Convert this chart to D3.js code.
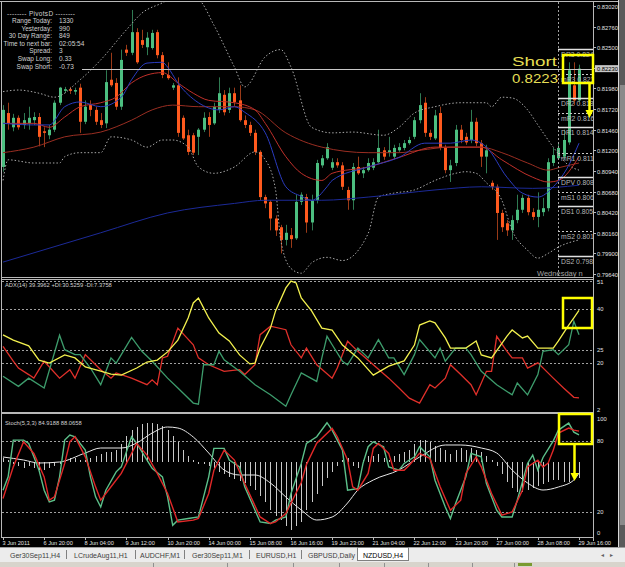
<!DOCTYPE html>
<html>
<head>
<meta charset="utf-8">
<script src="https://cdn.jsdelivr.net/npm/d3@7"></script>
<style>
html, body { margin: 0; padding: 0; background: #000; overflow: hidden; }
svg { display: block; }
text { font-family: "Liberation Sans", Arial, sans-serif; }
</style>
</head>
<body>
<div id="chart"></div>
<script>
// ---- NZDUSD H4 candles (bar 0 = 3 Jun 2011, bar 112 = 29 Jun 16:00) ----
var opens = [.8099,.8167,.8149,.8161,.8152,.8154,.8158,.8162,.8144,.8139,
  .8146,.8180,.8195,.8197,.8194,.8199,.8156,.8177,.8171,.8158,
  .8154,.8209,.8205,.8175,.8247,.8243,.8269,.8259,.8250,.8249,
  .8269,.8240,.8215,.8199,.8202,.8161,.8139,.8139,.8137,.8146,
  .8162,.8154,.8171,.8190,.8171,.8192,.8183,.8158,.8152,.8142,
  .8118,.8061,.8055,.8034,.8023,.8007,.8013,.8009,.8055,.8061,
  .8029,.8057,.8101,.8110,.8098,.8105,.8101,.8070,.8057,.8099,
  .8091,.8095,.8098,.8105,.8120,.8117,.8112,.8120,.8123,.8129,
  .8137,.8158,.8180,.8142,.8135,.8167,.8123,.8095,.8104,.8146,
  .8137,.8133,.8156,.8129,.8112,.8079,.8074,.8041,.8028,.8019,
  .8032,.8045,.8060,.8042,.8036,.8042,.8047,.8104,.8110,.8112,
  .8130,.8202,.8183];
var highs = [.8177,.8180,.8166,.8164,.8167,.8175,.8168,.8167,.8149,.8152,
  .8183,.8200,.8200,.8200,.8199,.8204,.8183,.8183,.8175,.8167,
  .8221,.8243,.8211,.8247,.8253,.8297,.8274,.8272,.8269,.8272,
  .8272,.8244,.8231,.8205,.8212,.8164,.8146,.8142,.8148,.8168,
  .8168,.8180,.8212,.8196,.8199,.8199,.8202,.8164,.8156,.8146,
  .8120,.8064,.8057,.8038,.8026,.8026,.8022,.8064,.8067,.8065,
  .8064,.8108,.8114,.8129,.8110,.8110,.8105,.8074,.8104,.8112,
  .8099,.8110,.8110,.8146,.8124,.8137,.8127,.8129,.8133,.8137,
  .8162,.8192,.8187,.8146,.8171,.8175,.8127,.8108,.8152,.8152,
  .8142,.8171,.8161,.8133,.8127,.8082,.8077,.8045,.8032,.8038,
  .8064,.8064,.8064,.8047,.8067,.8060,.8110,.8123,.8129,.8146,
  .8231,.8231,.8228];
var lows = [.8093,.8146,.8144,.8146,.8147,.8146,.8152,.8125,.8124,.8134,
  .8143,.8177,.8192,.8191,.8190,.8142,.8153,.8163,.8152,.8148,
  .8148,.8200,.8171,.8171,.8239,.8240,.8229,.8249,.8240,.8247,
  .8236,.8211,.8209,.8196,.8137,.8133,.8114,.8114,.8114,.8143,
  .8137,.8152,.8167,.8164,.8167,.8176,.8156,.8148,.8138,.8114,
  .8057,.8047,.8019,.8012,.7990,.8000,.7997,.8007,.8051,.8016,
  .8019,.8053,.8098,.8108,.8095,.8098,.8070,.8045,.8045,.8089,
  .8085,.8093,.8095,.8104,.8108,.8112,.8109,.8118,.8120,.8127,
  .8134,.8154,.8137,.8133,.8133,.8120,.8091,.8080,.8100,.8129,
  .8127,.8129,.8125,.8099,.8091,.8070,.8007,.8017,.8012,.8007,
  .8028,.8041,.8038,.8032,.8023,.8037,.8043,.8100,.8108,.8108,
  .8127,.8177,.8181];
var closes = [.8171,.8154,.8161,.8149,.8158,.8161,.8162,.8137,.8142,.8146,
  .8180,.8199,.8197,.8195,.8196,.8156,.8175,.8171,.8156,.8152,
  .8206,.8202,.8175,.8234,.8243,.8269,.8231,.8253,.8262,.8268,
  .8240,.8215,.8211,.8202,.8142,.8135,.8118,.8117,.8146,.8161,
  .8152,.8175,.8192,.8168,.8192,.8181,.8158,.8152,.8142,.8118,
  .8061,.8053,.8034,.8019,.8007,.8016,.8008,.8055,.8064,.8029,
  .8057,.8104,.8110,.8124,.8105,.8101,.8074,.8057,.8099,.8091,
  .8095,.8104,.8105,.8123,.8112,.8120,.8123,.8124,.8129,.8133,
  .8158,.8177,.8142,.8137,.8164,.8123,.8095,.8101,.8146,.8133,
  .8130,.8156,.8129,.8112,.8120,.8074,.8041,.8023,.8019,.8032,
  .8045,.8060,.8042,.8036,.8045,.8047,.8105,.8114,.8123,.8133,
  .8221,.8183,.8223];

// moving averages and bands, read as [bar, price]
var maBlueFast = [[0,.8154],[6,.8152],[9,.8152],[12,.8175],[15,.8181],[19,.8175],[23,.8187],[25,.8209],[28,.8230],[31,.8231],[32,.8225],[34,.8205],[38,.8180],[42,.8171],[45,.8175],[47,.8168],[51,.8142],[55,.8074],[58,.8062],[60,.8057],[63,.8074],[64,.8082],[71,.8099],[77,.8111],[82,.8129],[87,.8129],[91,.8133],[94,.8124],[98,.8086],[101,.8066],[104,.8061],[107,.8074],[110,.8101],[112,.8129]];
var maRedFast = [[0,.8154],[6,.8154],[9,.8149],[12,.8162],[15,.8175],[19,.8180],[22,.8187],[25,.8205],[28,.8215],[31,.8218],[34,.8205],[37,.8192],[40,.8183],[45,.8180],[49,.8171],[51,.8154],[55,.8112],[58,.8091],[62,.8082],[64,.8091],[71,.8099],[77,.8111],[84,.8124],[90,.8124],[93,.8124],[97,.8108],[103,.8086],[106,.8080],[108,.8082],[112,.8112]];
var maRedSlow = [[0,.8117],[6,.8124],[12,.8137],[19,.8143],[25,.8158],[29,.8171],[33,.8177],[38,.8175],[45,.8175],[49,.8171],[55,.8142],[62,.8124],[71,.8117],[77,.8117],[81,.8120],[87,.8124],[93,.8124],[97,.8117],[102,.8104],[106,.8095],[108,.8098],[112,.8104]];
var maBlueSlow = [[0,.7979],[19,.8016],[32,.8041],[45,.8053],[51,.8057],[62,.8057],[71,.8061],[84,.8070],[93,.8074],[103,.8072],[112,.8076]];
var bandUpper = [[0,.8194],[3,.8196],[7,.8192],[10,.8187],[15,.8209],[19,.8234],[24,.8272],[27,.8293],[31,.8306],[34,.8316],[38,.8310],[41,.8278],[45,.8225],[47,.8200],[51,.8238],[54,.8247],[56,.8225],[60,.8149],[64,.8142],[68,.8143],[74,.8139],[77,.8149],[80,.8167],[84,.8175],[89,.8180],[94,.8180],[95,.8175],[97,.8187],[99,.8186],[102,.8171],[104,.8152],[107,.8124],[110,.8101],[112,.8095]];
var bandLower = [[0,.8082],[1,.8108],[6,.8104],[11,.8104],[12,.8112],[15,.8117],[19,.8117],[21,.8137],[25,.8133],[28,.8124],[31,.8133],[33,.8133],[36,.8124],[38,.8099],[41,.8091],[45,.8099],[49,.8118],[51,.8108],[53,.8070],[54,.8007],[56,.7971],[58,.7965],[60,.7978],[63,.7985],[66,.7981],[71,.8015],[73,.8061],[76,.8066],[80,.8070],[84,.8082],[88,.8091],[90,.8093],[92,.8091],[94,.8079],[97,.8057],[99,.8019],[102,.7994],[104,.7984],[106,.7990],[108,.7998],[112,.8007]];

// daily pivots (right edge)
var pivotNames = ["DR3", "mR3", "DR2", "mR2", "DR1", "mR1", "DPV", "mS1", "DS1", "mS2", "DS2"];
var pivotLevels = [.8248, .8216, .8186, .8167, .8149, .8117, .8086, .8067, .8050, .8018, .7987];
var shortLevel = 0.8223;

// ADX(14), +DI, -DI as [bar, value]
var adxLine = [[0,30.4],[2,28.5],[5,26.4],[7,21.2],[9,20.1],[12,23.1],[14,22.0],[16,18.7],[19,17.2],[21,16.1],[23,15.7],[26,18.3],[28,20.5],[30,21.2],[32,24.2],[34,28.5],[36,36.6],[37,42.1],[38,43.9],[39,40.3],[40,36.6],[42,31.1],[44,28.2],[46,23.1],[48,19.8],[49,20.1],[50,25.6],[52,32.9],[53,39.2],[55,47.6],[56,50.1],[57,49.4],[58,43.9],[60,39.2],[62,32.9],[64,32.2],[66,26.7],[69,22.0],[72,15.7],[75,19.0],[78,20.9],[80,26.7],[81,34.0],[83,35.5],[84,34.8],[86,29.3],[87,25.6],[90,25.6],[92,28.2],[93,23.1],[95,22.0],[98,30.0],[99,32.2],[101,29.3],[102,30.0],[104,25.6],[107,25.6],[108,28.2],[110,34.0],[111,36.6],[112,39.4]];
var plusDI = [[0,15.3],[3,11.6],[5,14.6],[8,11.0],[11,30.3],[12,25.0],[14,23.2],[15,23.2],[17,18.3],[19,12.2],[21,22.0],[22,20.1],[23,23.2],[25,29.5],[27,24.4],[29,20.8],[32,14.6],[34,11.0],[37,5.5],[38,5.1],[39,19.5],[41,19.5],[42,24.4],[43,21.3],[46,17.1],[49,12.2],[52,8.5],[55,4.3],[56,8.5],[58,16.5],[61,13.4],[62,22.0],[63,29.9],[64,26.8],[66,20.8],[67,19.5],[69,25.6],[71,22.0],[73,28.7],[75,22.0],[76,22.0],[78,15.9],[80,23.2],[81,28.7],[84,22.0],[85,25.6],[86,20.8],[88,25.6],[90,25.6],[91,23.2],[93,17.1],[96,12.2],[99,8.5],[100,12.8],[102,8.5],[104,15.9],[105,24.4],[107,25.0],[108,23.2],[110,26.8],[111,35.4],[112,30.5]];
var minusDI = [[0,26.2],[2,20.8],[3,18.3],[5,15.9],[6,14.6],[8,20.8],[11,14.6],[13,17.7],[14,14.6],[16,23.2],[19,17.7],[21,14.6],[22,16.5],[25,14.6],[28,12.2],[29,14.0],[30,12.2],[31,22.0],[32,22.6],[34,32.9],[37,26.8],[38,22.0],[40,19.5],[43,17.1],[46,17.7],[47,15.9],[49,19.5],[50,30.5],[52,33.6],[55,32.3],[56,26.8],[58,22.0],[59,25.6],[61,19.5],[64,14.6],[65,18.3],[67,28.1],[69,24.4],[72,19.5],[75,14.6],[77,11.0],[79,7.3],[81,5.5],[83,12.2],[84,11.0],[86,14.6],[87,19.5],[89,15.9],[91,12.2],[92,8.5],[94,17.1],[95,17.1],[96,29.9],[98,24.4],[99,22.0],[101,22.0],[102,18.3],[104,20.2],[107,14.6],[109,11.0],[111,7.6],[112,7.4]];

// Stochastic(5,3,3) as [bar, value]
var stochK = [[0,38.5],[1,49.7],[2,80.6],[4,80.6],[5,77.8],[6,66.5],[7,55.3],[8,38.5],[9,28.7],[10,30.1],[11,49.7],[12,80.6],[13,84.8],[14,83.4],[16,72.2],[17,49.7],[18,32.9],[19,24.4],[20,38.5],[22,53.9],[23,58.1],[25,83.4],[26,77.8],[28,63.8],[29,56.8],[31,49.7],[32,32.9],[33,9.0],[34,13.3],[36,14.7],[38,16.0],[40,49.7],[41,73.6],[43,73.6],[44,63.8],[46,58.1],[47,41.3],[49,21.7],[50,11.8],[52,10.5],[53,13.3],[55,16.0],[56,35.7],[58,61.0],[59,77.8],[61,83.4],[63,95.2],[64,89.0],[66,72.2],[67,38.5],[69,39.9],[70,61.0],[71,75.0],[72,79.2],[74,75.0],[75,58.1],[77,55.3],[78,61.0],[80,66.5],[81,75.0],[83,66.5],[84,46.9],[86,24.4],[87,14.7],[88,27.3],[90,49.7],[91,69.4],[93,66.5],[94,44.1],[96,21.7],[97,16.0],[99,16.0],[100,30.1],[102,61.0],[103,68.0],[104,55.3],[105,66.0],[107,80.0],[108,89.0],[110,94.9],[111,87.3],[112,84.9]];
var stochD = [[0,31.5],[2,58.1],[4,79.2],[6,69.4],[8,49.7],[9,30.1],[10,32.9],[12,61.0],[13,79.2],[14,83.4],[16,66.5],[18,41.3],[19,30.1],[20,35.7],[23,52.6],[26,77.8],[28,68.0],[30,52.6],[32,35.7],[34,11.8],[37,13.3],[38,14.7],[40,35.7],[41,55.0],[43,72.2],[45,63.8],[47,44.1],[50,16.0],[52,10.5],[53,11.8],[55,18.9],[58,45.0],[59,60.0],[61,78.0],[64,90.4],[65,83.4],[67,63.8],[68,41.3],[69,38.5],[71,52.6],[72,73.6],[73,77.8],[75,69.4],[76,55.3],[78,55.3],[79,59.5],[81,69.4],[83,65.2],[85,41.3],[87,21.7],[89,30.1],[90,52.6],[92,66.5],[93,58.1],[95,35.7],[97,17.5],[99,20.2],[101,38.5],[102,58.1],[104,63.8],[105,58.0],[106,61.2],[107,72.2],[108,86.5],[110,90.7],[111,89.0],[112,88.1]];
// oscillator overlay in the stochastic window (pips): histogram per bar + white signal
var oscHist = [1,0.5,-0.5,-1,-1.5,-1,-1.5,-2,-2,-1.5,-1,-0.5,0.5,1,1,0.5,0.5,1,1.5,2,2.5,2.5,
  3,4.5,6.5,8,8.75,9.5,9.75,9.75,9.5,9,8,6.5,5,3,1.5,0.5,
  -0.5,-0.5,-1,
  -1.5,-2.5,-3,-3.75,-4.25,-4.75,-5.25,-6,-7,-8.5,-10,-12,-13.5,-14.5,-16,-17,-16,-15,-12,-10,-8,-6,-4,-2.5,-1,
  0.5,1,-1,-1.5,0.5,1.5,1.5,2,1,0.5,1.5,2,2.5,3,
  4.5,5.5,5.5,5,4,
  3.5,3,2,3,3.5,3,3.5,3,2.5,1.5,0.5,-1,
  -3,-5,-6.5,-7.5,-7.5,-7,-6.5,-6,-5.5,-5,-4.5,-4.5,-5,-5,-4.5,-4];
var oscSignal = [[0,1.25],[4,0.5],[7,-0.25],[11,0],[16,2.25],[19,3.5],[23,3.5],[26,4.75],[29,7.25],[32,8.75],[34,8.5],[37,6.25],[40,2.25],[43,-2],[46,-3.25],[49,-3.25],[52,-5.25],[55,-8.75],[58,-12],[61,-14.5],[64,-13.75],[67,-10.25],[69,-7],[72,-4.5],[77,-2],[81,1.25],[86,4.25],[89,4.25],[93,3.5],[96,2.25],[99,-2],[102,-5.25],[105,-7],[108,-6.25],[111,-4.5],[112,-2.75]];

// axes, levels, labels
var priceTicks = [0.83020,0.82760,0.82500,0.82240,0.81980,0.81720,0.81460,0.81200,0.80940,0.80680,0.80420,0.80160,0.79900,0.79640];
var adxTicks = [51, 40, 25, 20, 2];
var adxLevels = [50, 40, 25, 20];
var stochTicks = [100, 80, 20, 0];
var stochLevels = [80, 20];
var timeLabels = ["3 Jun 2011","6 Jun 20:00","8 Jun 04:00","9 Jun 12:00","10 Jun 20:00","14 Jun 00:00","15 Jun 08:00","16 Jun 16:00","19 Jun 23:00","21 Jun 04:00","22 Jun 12:00","23 Jun 20:00","27 Jun 00:00","28 Jun 08:00","29 Jun 16:00"];
var timeTickBars = [0,8,16,24,32,40,48,56,64,72,80,88,96,104,112];
var infoLabels = ["Range Today:", "Yesterday:", "30 Day Range:", "Time to next bar:", "Spread:", "Swap Long:", "Swap Short:"];
var infoValues = ["1330", "990", "849", "02:05:54", "3", "0.33", "-0.73"];
var tabNames = ["Ger30Sep11,H4", "LCrudeAug11,H1", "AUDCHF,M1", "Ger30Sep11,M1", "EURUSD,H1", "GBPUSD,Daily", "NZDUSD,H4"];

// ---- layout ----
var W = 625, H = 567;
var plotL = 2, plotR = 593;
var mainTop = 2, mainBot = 277, adxTop = 279, adxBot = 412, stTop = 414, stBot = 537;

var svg = d3.select("#chart").append("svg").attr("width", W).attr("height", H);
svg.append("rect").attr("width", W).attr("height", H).attr("fill", "#000");

var defs = svg.append("defs");
function clip(id, y0, y1) {
  defs.append("clipPath").attr("id", id).append("rect")
    .attr("x", plotL).attr("y", y0).attr("width", plotR - plotL).attr("height", y1 - y0);
  return "url(#" + id + ")";
}
var mainClip = clip("cm", mainTop, mainBot), adxClip = clip("ca", adxTop, adxBot), stClip = clip("cs", stTop, stBot);

var x = d3.scaleLinear().domain([0, closes.length - 1]).range([3, 579]);
var yP = d3.scaleLinear().domain([0.79640, 0.83020]).range([274, 6]);
var yA = d3.scaleLinear().domain([2, 51]).range([412.6, 278.6]);
var yS = d3.scaleLinear().domain([0, 100]).range([536, 417]);
var yO = d3.scaleLinear().domain([-18.5, 12]).range([536, 414]);

function pathOf(g, data, ys, color, width, curve, dash) {
  var line = d3.line().x(function(d) { return x(d[0]); }).y(function(d) { return ys(d[1]); })
    .curve(curve || d3.curveLinear);
  var p = g.append("path").datum(data).attr("d", line).attr("fill", "none")
    .attr("stroke", color).attr("stroke-width", width);
  if (dash) p.attr("stroke-dasharray", dash);
  return p;
}

// ---- main pane ----
var main = svg.append("g").attr("clip-path", mainClip);
var bars = d3.range(closes.length);
var up = function(i) { return closes[i] >= opens[i]; };

main.append("g").selectAll("line").data(bars).enter().append("line")
  .attr("x1", function(i) { return Math.round(x(i)) + 0.5; })
  .attr("x2", function(i) { return Math.round(x(i)) + 0.5; })
  .attr("y1", function(i) { return yP(highs[i]); })
  .attr("y2", function(i) { return yP(lows[i]); })
  .attr("stroke", function(i) { return up(i) ? "#2f7a52" : "#9a3a18"; })
  .attr("stroke-width", 1);
main.append("g").selectAll("rect").data(bars).enter().append("rect")
  .attr("x", function(i) { return Math.round(x(i)) - 1; })
  .attr("width", 3)
  .attr("y", function(i) { return yP(Math.max(opens[i], closes[i])); })
  .attr("height", function(i) { return Math.max(1, Math.abs(yP(opens[i]) - yP(closes[i]))); })
  .attr("fill", function(i) { return up(i) ? "#4cbf80" : "#ff5a1e"; });

pathOf(main, bandUpper, yP, "#a8a8a8", 1, d3.curveMonotoneX, "1.5,2");
pathOf(main, bandLower, yP, "#a8a8a8", 1, d3.curveMonotoneX, "1.5,2");
pathOf(main, maBlueSlow, yP, "#1c2a98", 1, d3.curveMonotoneX);
pathOf(main, maRedSlow, yP, "#9a2e22", 1, d3.curveMonotoneX);
pathOf(main, maRedFast, yP, "#c0302a", 1, d3.curveMonotoneX);
pathOf(main, maBlueFast, yP, "#2b3cc0", 1, d3.curveMonotoneX);

// short line
main.append("line").attr("x1", 82).attr("x2", plotR)
  .attr("y1", Math.round(yP(shortLevel)) + 0.5).attr("y2", Math.round(yP(shortLevel)) + 0.5)
  .attr("stroke", "#c8c8c8").attr("stroke-width", 1);

// pivot block
var pivX = 558;
main.append("line").attr("x1", pivX + 0.5).attr("x2", pivX + 0.5).attr("y1", mainTop).attr("y2", mainBot)
  .attr("stroke", "#a0a0a0").attr("stroke-dasharray", "2,2");
pivotLevels.forEach(function(v, k) {
  var yy = Math.round(yP(v)) + 0.5;
  var solid = pivotNames[k].charAt(0) === "D";
  main.append("line").attr("x1", pivX).attr("x2", plotR).attr("y1", yy).attr("y2", yy)
    .attr("stroke", solid ? "#e0e0e0" : "#c8c8c8").attr("stroke-width", solid ? 1.5 : 1)
    .attr("stroke-dasharray", solid ? null : "2,2");
  main.append("text").attr("x", 561).attr("y", yy + 7.5).attr("font-size", 6.8)
    .attr("font-family", "DejaVu Sans").attr("fill", "#b8b8b8")
    .text(pivotNames[k] + " " + v.toFixed(4));
});
main.append("text").attr("x", 537).attr("y", 276).attr("font-size", 7.5).attr("fill", "#a0a0a0").text("Wednesday n");

// info block (PivotsD)
svg.append("text").attr("x", 7).attr("y", 15.5).attr("font-size", 6.5).attr("fill", "#d0d0d0")
  .attr("textLength", 68).attr("lengthAdjust", "spacing").text("-------- PivotsD --------");
infoLabels.forEach(function(s, k) {
  var yy = 23 + k * 7.6;
  svg.append("text").attr("x", 52).attr("y", yy).attr("text-anchor", "end")
    .attr("font-size", 6.5).attr("fill", "#d0d0d0").text(s);
  svg.append("text").attr("x", 59).attr("y", yy).attr("font-size", 6.5).attr("fill", "#d0d0d0").text(infoValues[k]);
});

// Short annotation
svg.append("text").attr("x", 512).attr("y", 65.5).attr("font-size", 13).attr("fill", "#e6df55")
  .attr("font-family", "DejaVu Sans").attr("textLength", 45).attr("lengthAdjust", "spacingAndGlyphs").text("Short");
svg.append("text").attr("x", 512).attr("y", 82.5).attr("font-size", 13).attr("fill", "#e6df55")
  .attr("font-family", "DejaVu Sans").attr("textLength", 46).attr("lengthAdjust", "spacingAndGlyphs").text(shortLevel.toFixed(4));

// ---- ADX pane ----
var adx = svg.append("g").attr("clip-path", adxClip);
adxLevels.forEach(function(v) {
  adx.append("line").attr("x1", plotL).attr("x2", plotR).attr("y1", Math.round(yA(v)) + 0.5).attr("y2", Math.round(yA(v)) + 0.5)
    .attr("stroke", "#a0a0a0").attr("stroke-dasharray", "2,2");
});
pathOf(adx, minusDI, yA, "#e0302a", 1.3);
pathOf(adx, plusDI, yA, "#3d9c6c", 1.3);
pathOf(adx, adxLine, yA, "#f2f04e", 1.3);
svg.append("text").attr("x", 5).attr("y", 287).attr("font-size", 5.8).attr("fill", "#d0d0d0")
  .text("ADX(14) 39.3962 +DI:30.5259 -DI:7.3758");

// ---- Stochastic pane ----
var st = svg.append("g").attr("clip-path", stClip);
stochLevels.forEach(function(v) {
  st.append("line").attr("x1", plotL).attr("x2", plotR).attr("y1", Math.round(yS(v)) + 0.5).attr("y2", Math.round(yS(v)) + 0.5)
    .attr("stroke", "#a0a0a0").attr("stroke-dasharray", "2,2");
});
st.append("g").selectAll("line").data(bars).enter().append("line")
  .attr("x1", function(i) { return Math.round(x(i)) + 0.5; })
  .attr("x2", function(i) { return Math.round(x(i)) + 0.5; })
  .attr("y1", yO(0))
  .attr("y2", function(i) { return yO(oscHist[i]); })
  .attr("stroke", "#c8c8c8").attr("stroke-width", 1);
pathOf(st, oscSignal, yO, "#e8e8e8", 1, d3.curveMonotoneX);
pathOf(st, stochK, yS, "#5cc08a", 1.4);
pathOf(st, stochD, yS, "#e02828", 1.4);
svg.append("text").attr("x", 5).attr("y", 425).attr("font-size", 5.8).attr("fill", "#d0d0d0")
  .text("Stoch(5,3,3) 84.9188 88.0658");

// ---- frames ----
var frame = svg.append("g").attr("fill", "none").attr("stroke", "#b8b8b8");
frame.append("line").attr("x1", 0).attr("x2", 618).attr("y1", 1.5).attr("y2", 1.5);
frame.append("line").attr("x1", 1.5).attr("x2", 1.5).attr("y1", 1).attr("y2", stBot);
[mainBot + 0.5, adxTop + 0.5, adxBot + 0.5, stTop - 0.5, stBot + 0.5].forEach(function(yy) {
  frame.append("line").attr("x1", 1).attr("x2", plotR).attr("y1", yy).attr("y2", yy);
});
frame.append("line").attr("x1", plotR + 0.5).attr("x2", plotR + 0.5).attr("y1", 1).attr("y2", stBot + 4);

// ---- right axes ----
var ax = svg.append("g").attr("font-size", 5.8).attr("fill", "#e0e0e0");
var bid = closes[closes.length - 1], bidY = yP(bid);
priceTicks.forEach(function(v) {
  var yy = Math.round(yP(v)) + 0.5;
  svg.append("line").attr("x1", plotR).attr("x2", plotR + 3).attr("y1", yy).attr("y2", yy).attr("stroke", "#b8b8b8");
  if (Math.abs(yy - bidY) > 5) ax.append("text").attr("x", 597).attr("y", yy + 2).text(v.toFixed(5));
});
svg.append("rect").attr("x", 595).attr("y", bidY - 3.5).attr("width", 23).attr("height", 7).attr("fill", "#c8c8c8");
svg.append("text").attr("x", 597).attr("y", bidY + 2).attr("font-size", 5.8).attr("fill", "#000")
  .text(bid.toFixed(4) + "0");
adxTicks.forEach(function(v) {
  var yy = Math.max(adxTop + 5, Math.min(adxBot, yA(v) + 2));
  ax.append("text").attr("x", 597).attr("y", yy).text(v);
});
stochTicks.forEach(function(v) {
  var yy = Math.max(stTop + 7, Math.min(stBot - 2, yS(v) + 2));
  ax.append("text").attr("x", 597).attr("y", yy).text(v);
});

// ---- time axis ----
timeLabels.forEach(function(s, k) {
  var xx = Math.round(x(timeTickBars[k])) + 0.5;
  svg.append("line").attr("x1", xx).attr("x2", xx).attr("y1", stBot).attr("y2", stBot + 3).attr("stroke", "#b8b8b8");
  svg.append("text").attr("x", xx - 1).attr("y", 545).attr("font-size", 5.6).attr("fill", "#e0e0e0").text(s);
});

// ---- yellow marks ----
var yel = svg.append("g").attr("fill", "none").attr("stroke", "#ffff00").attr("stroke-width", 2.5);
yel.append("rect").attr("x", 563).attr("y", 55).attr("width", 30).attr("height", 28);
yel.append("rect").attr("x", 563).attr("y", 298).attr("width", 29).attr("height", 30);
yel.append("rect").attr("x", 559).attr("y", 414).attr("width", 33).attr("height", 30);
yel.append("line").attr("x1", 589.5).attr("x2", 589.5).attr("y1", 83).attr("y2", 112);
yel.append("line").attr("x1", 574.5).attr("x2", 574.5).attr("y1", 444).attr("y2", 475);
svg.append("path").attr("d", "M585.5,110 L593.5,110 L589.5,118 Z").attr("fill", "#ffff00");
svg.append("path").attr("d", "M570.5,473 L578.5,473 L574.5,481 Z").attr("fill", "#ffff00");

// ---- scrollbar ----
svg.append("rect").attr("x", 618).attr("y", 0).attr("width", 7).attr("height", 547).attr("fill", "#5a5a5a");
svg.append("rect").attr("x", 620).attr("y", 85).attr("width", 5).attr("height", 440).attr("fill", "#8a8a8a");
svg.append("line").attr("x1", 618.5).attr("x2", 618.5).attr("y1", 0).attr("y2", 547).attr("stroke", "#d8d8d8");

// ---- tabs + status bar ----
svg.append("rect").attr("x", 0).attr("y", 547).attr("width", W).attr("height", 15).attr("fill", "#ececec");
svg.append("line").attr("x1", 0).attr("x2", W).attr("y1", 547.5).attr("y2", 547.5).attr("stroke", "#a0a0a0");
var tabX = [10, 74, 140, 192, 256, 308, 363];
var tabSep = [66, 135, 184, 249, 301];
tabSep.forEach(function(xx) {
  svg.append("line").attr("x1", xx + 0.5).attr("x2", xx + 0.5).attr("y1", 550).attr("y2", 559).attr("stroke", "#808080");
});
svg.append("rect").attr("x", 357.5).attr("y", 547.5).attr("width", 51).attr("height", 13).attr("fill", "#fff").attr("stroke", "#808080");
tabNames.forEach(function(s, k) {
  svg.append("text").attr("x", tabX[k]).attr("y", 557.5).attr("font-size", 7)
    .attr("fill", k === tabNames.length - 1 ? "#000" : "#404040").text(s);
});
svg.append("text").attr("x", 601).attr("y", 557).attr("font-size", 6).attr("fill", "#606060").text("\u25C2");
svg.append("text").attr("x", 610).attr("y", 557).attr("font-size", 6).attr("fill", "#606060").text("\u25B8");
svg.append("rect").attr("x", 0).attr("y", 562).attr("width", W).attr("height", 5).attr("fill", "#d8d4cc");
[153, 227, 293, 339, 384, 428, 472, 514].forEach(function(xx) {
  svg.append("line").attr("x1", xx + 0.5).attr("x2", xx + 0.5).attr("y1", 563).attr("y2", 567).attr("stroke", "#909090");
});
svg.append("rect").attr("x", 518).attr("y", 563).attr("width", 14).attr("height", 3).attr("fill", "#7a9a30");
</script>
</body>
</html>
